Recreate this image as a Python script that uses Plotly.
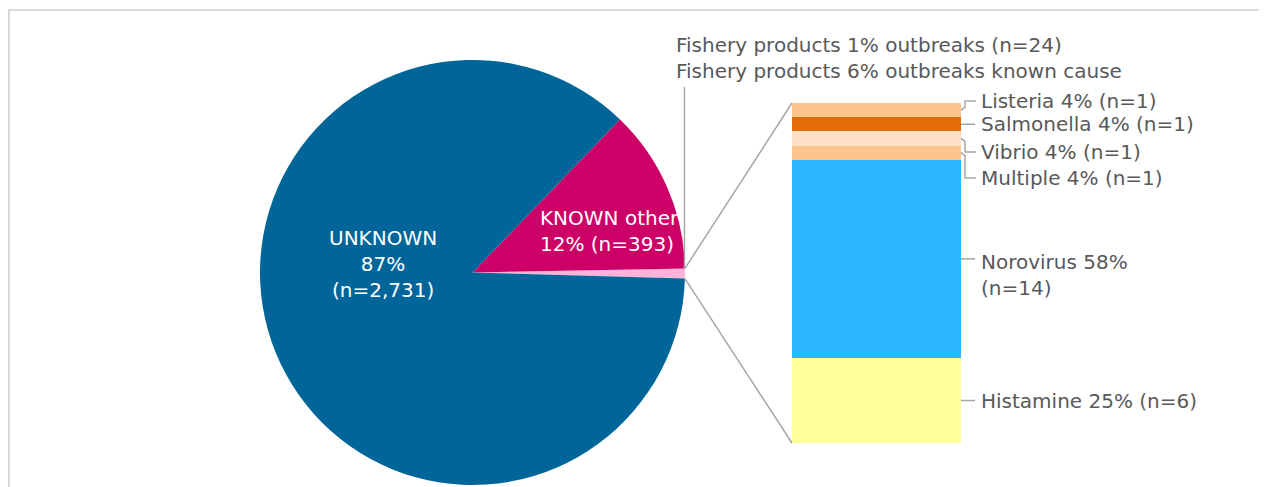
import math
import plotly.graph_objects as go

# ---- data ----
pie_labels = ["Fishery products", "KNOWN other", "UNKNOWN"]
pie_values = [24, 393, 2731]
pie_colors = ["#FFB3DA", "#CC0066", "#006699"]

bar_labels = ["Histamine", "Norovirus", "Multiple", "Vibrio", "Salmonella", "Listeria"]
bar_values = [6, 14, 1, 1, 1, 1]
bar_pcts = ["25%", "58%", "4%", "4%", "4%", "4%"]
bar_colors = ["#FFFF99", "#2CB8FF", "#FCC58D", "#FDE0C5", "#E36C0A", "#FCC58D"]

fishery_title = ["Fishery products 1% outbreaks (n=24)",
                 "Fishery products 6% outbreaks known cause"]

# ---- layout helpers (page body has an 8px margin) ----
OFF = 8
W, H = 1267 - OFF, 487 - OFF
def px(x):
    return (x - OFF) / W
def py(y):
    return 1 - (y - OFF) / H

FONT = "DejaVu Sans"
GREY_TXT = "#595959"
GREY_LINE = "#A6A6A6"

# pie geometry (screen pixels)
pie_left, pie_right, pie_top, pie_bottom = 260, 685, 60, 485
cx, cy = (pie_left + pie_right) / 2, (pie_top + pie_bottom) / 2
R = (pie_right - pie_left) / 2
rotation = 88.9

# bar geometry (screen pixels)
bar_l, bar_r, bar_t, bar_b = 792, 961, 103, 443
total_bar = sum(bar_values)

fig = go.Figure()

fig.add_trace(go.Pie(
    labels=pie_labels, values=pie_values, sort=False,
    direction="counterclockwise", rotation=rotation,
    marker=dict(colors=pie_colors, line=dict(width=0)),
    textinfo="none", hoverinfo="label+value", showlegend=False,
    domain=dict(x=[px(pie_left), px(pie_right)], y=[py(pie_bottom), py(pie_top)]),
))

for lab, v, c in zip(bar_labels, bar_values, bar_colors):
    fig.add_trace(go.Bar(
        x=[0], y=[v], name=lab, marker=dict(color=c, line=dict(width=0)),
        width=1, showlegend=False, xaxis="x", yaxis="y",
    ))

shapes = []
annotations = []

# border
shapes.append(dict(type="rect", xref="paper", yref="paper",
                   x0=px(9), x1=px(1262), y0=py(H + 20), y1=py(10),
                   line=dict(color="#D9D9D9", width=2), layer="below"))

# pie connector points from slice angles
tot = sum(pie_values)
a1 = math.radians(90 - rotation)
a0 = a1 - 2 * math.pi * pie_values[0] / tot
up = (cx + R * math.cos(a1), cy - R * math.sin(a1))
lo = (cx + R * math.cos(a0), cy - R * math.sin(a0))

def line_px(x0, y0, x1, y1):
    shapes.append(dict(type="line", xref="paper", yref="paper",
                       x0=px(x0), y0=py(y0), x1=px(x1), y1=py(y1),
                       line=dict(color=GREY_LINE, width=1.5)))

line_px(up[0], up[1], bar_l, bar_t)
line_px(lo[0], lo[1], bar_l, bar_b)
line_px(up[0] - 0.5, up[1], up[0] - 0.5, 87)

# fishery title
annotations.append(dict(xref="paper", yref="paper", x=px(674), y=py(58),
                        xanchor="left", yanchor="middle", align="left",
                        text="<br>".join(fishery_title), showarrow=False,
                        font=dict(family=FONT, size=20, color=GREY_TXT)))

# pie labels
annotations.append(dict(xref="paper", yref="paper", x=px(383), y=py(264),
                        xanchor="center", yanchor="middle", align="center",
                        text=f"UNKNOWN<br>{round(100*pie_values[2]/tot)}%<br>(n={pie_values[2]:,})",
                        showarrow=False, font=dict(family=FONT, size=20, color="white")))
annotations.append(dict(xref="paper", yref="paper", x=px(538), y=py(231),
                        xanchor="left", yanchor="middle", align="left",
                        text=f"KNOWN other<br>{round(100*pie_values[1]/tot)}% (n={pie_values[1]})",
                        showarrow=False, font=dict(family=FONT, size=20, color="white")))

# bar labels
label_y_px = [402, 260, 178, 152, 126, 101]
cum = 0
for lab, v, pct, ly in zip(bar_labels, bar_values, bar_pcts, label_y_px):
    mid = cum + v / 2
    cum += v
    mid_px = bar_b - (mid / total_bar) * (bar_b - bar_t)
    if abs(mid_px - ly) < 4:
        line_px(bar_r, mid_px, bar_r + 14, mid_px)
        ly = mid_px
    else:
        d = 1 if ly > mid_px else -1
        path = (f"M {px(bar_r)} {py(mid_px)} L {px(bar_r + 4)} {py(mid_px + 3*d)} "
                f"L {px(bar_r + 4)} {py(ly)} L {px(bar_r + 15)} {py(ly)}")
        shapes.append(dict(type="path", xref="paper", yref="paper", path=path,
                           line=dict(color=GREY_LINE, width=1.5)))
    if lab == "Norovirus":
        annotations.append(dict(xref="paper", yref="paper", x=px(979), y=py(ly - 11),
                                xanchor="left", yanchor="top", align="left",
                                text=f"{lab} {pct}<br>(n={v})",
                                showarrow=False, font=dict(family=FONT, size=20, color=GREY_TXT)))
    else:
        annotations.append(dict(xref="paper", yref="paper", x=px(979), y=py(ly),
                                xanchor="left", yanchor="middle", align="left",
                                text=f"{lab} {pct} (n={v})",
                                showarrow=False, font=dict(family=FONT, size=20, color=GREY_TXT)))

fig.update_layout(
    width=W, height=H, margin=dict(l=0, r=0, t=0, b=0),
    paper_bgcolor="white", plot_bgcolor="white",
    barmode="stack", bargap=0,
    xaxis=dict(domain=[px(bar_l), px(bar_r)], range=[-0.5, 0.5], visible=False, fixedrange=True),
    yaxis=dict(domain=[py(bar_b), py(bar_t)], range=[0, total_bar], visible=False, fixedrange=True),
    shapes=shapes, annotations=annotations,
)

fig.write_html("out.html")
